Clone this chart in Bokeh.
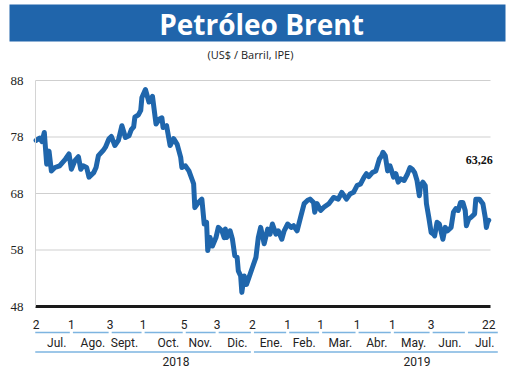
from datetime import datetime, timedelta
from bokeh.plotting import figure
from bokeh.models import FixedTicker, CustomJSTickFormatter, ColumnDataSource
from bokeh.core.properties import value
from bokeh.embed import file_html
from bokeh.resources import INLINE

# ---------------- data ----------------
dates = [
    "2018-07-02", "2018-07-05", "2018-07-07", "2018-07-09", "2018-07-11", "2018-07-13",
    "2018-07-15", "2018-07-18", "2018-07-22", "2018-07-27", "2018-07-30", "2018-08-01",
    "2018-08-04", "2018-08-07", "2018-08-09", "2018-08-11", "2018-08-14", "2018-08-16",
    "2018-08-20", "2018-08-22", "2018-08-24", "2018-08-28", "2018-08-30", "2018-09-02",
    "2018-09-04", "2018-09-07", "2018-09-10", "2018-09-13", "2018-09-16", "2018-09-19",
    "2018-09-21", "2018-09-23", "2018-09-24", "2018-09-27", "2018-09-29", "2018-09-30",
    "2018-10-03", "2018-10-06", "2018-10-09", "2018-10-12", "2018-10-15", "2018-10-17",
    "2018-10-18", "2018-10-21", "2018-10-24", "2018-10-27", "2018-10-30", "2018-11-02",
    "2018-11-03", "2018-11-06", "2018-11-09", "2018-11-12", "2018-11-13", "2018-11-14",
    "2018-11-17", "2018-11-20", "2018-11-22", "2018-11-24", "2018-11-25", "2018-11-27",
    "2018-11-29", "2018-12-02", "2018-12-04", "2018-12-07", "2018-12-09", "2018-12-10",
    "2018-12-11", "2018-12-14", "2018-12-16", "2018-12-18", "2018-12-20", "2018-12-21",
    "2018-12-23", "2018-12-24", "2018-12-26", "2018-12-28", "2018-12-30", "2019-01-02",
    "2019-01-05", "2019-01-07", "2019-01-09", "2019-01-12", "2019-01-15", "2019-01-17",
    "2019-01-19", "2019-01-22", "2019-01-24", "2019-01-27", "2019-01-29", "2019-02-01",
    "2019-02-04", "2019-02-06", "2019-02-09", "2019-02-12", "2019-02-15", "2019-02-18",
    "2019-02-20", "2019-02-23", "2019-02-24", "2019-02-26", "2019-03-01", "2019-03-04",
    "2019-03-08", "2019-03-12", "2019-03-16", "2019-03-19", "2019-03-23", "2019-03-26",
    "2019-03-29", "2019-04-01", "2019-04-04", "2019-04-07", "2019-04-09", "2019-04-11",
    "2019-04-14", "2019-04-17", "2019-04-20", "2019-04-22", "2019-04-23", "2019-04-25",
    "2019-04-27", "2019-04-29", "2019-04-30", "2019-05-02", "2019-05-04", "2019-05-06",
    "2019-05-08", "2019-05-11", "2019-05-14", "2019-05-16", "2019-05-18", "2019-05-20",
    "2019-05-22", "2019-05-24", "2019-05-25", "2019-05-27", "2019-05-29", "2019-05-30",
    "2019-06-01", "2019-06-03", "2019-06-05", "2019-06-06", "2019-06-08", "2019-06-10",
    "2019-06-13", "2019-06-15", "2019-06-17", "2019-06-20", "2019-06-22", "2019-06-24",
    "2019-06-26", "2019-06-28", "2019-06-30", "2019-07-02", "2019-07-03", "2019-07-05",
    "2019-07-07", "2019-07-10", "2019-07-11", "2019-07-14", "2019-07-17", "2019-07-19",
    "2019-07-20", "2019-07-21", "2019-07-22",
]
prices = [
    77.4, 77.8, 77.2, 78.8, 73.2, 75.5,
    72.0, 72.6, 72.9, 74.1, 75.0, 72.3,
    73.8, 74.5, 72.3, 72.9, 72.6, 70.9,
    71.7, 72.6, 74.7, 75.6, 76.2, 77.7,
    78.1, 76.5, 77.4, 80.0, 77.9, 78.2,
    79.3, 79.8, 81.5, 81.9, 82.7, 85.0,
    86.4, 84.2, 85.2, 80.3, 81.2, 81.4,
    79.7, 80.0, 76.5, 77.7, 76.7, 74.4,
    72.6, 72.9, 72.0, 70.3, 69.7, 65.5,
    66.4, 67.0, 62.6, 62.9, 57.9, 60.2,
    58.7, 60.2, 62.0, 61.4, 60.2, 61.7,
    60.2, 61.4, 59.9, 57.0, 56.7, 54.3,
    53.4, 50.5, 53.4, 51.9, 53.1, 54.9,
    56.7, 60.2, 62.0, 59.1, 61.7, 60.8,
    62.6, 60.8, 61.4, 59.9, 61.4, 62.6,
    62.0, 62.3, 61.4, 63.8, 66.2, 66.8,
    67.0, 66.4, 64.7, 66.2, 65.0, 65.6,
    66.2, 67.3, 67.0, 68.2, 67.0, 67.9,
    68.2, 69.4, 69.7, 70.9, 71.5, 71.0,
    71.7, 72.0, 74.1, 74.7, 75.3, 74.7,
    72.0, 72.9, 72.3, 70.9, 71.5, 70.0,
    70.6, 70.3, 71.5, 72.6, 72.3, 71.7,
    70.3, 67.6, 69.4, 70.0, 69.4, 66.2,
    63.8, 61.1, 60.8, 60.5, 62.9, 62.6,
    59.9, 62.0, 61.4, 62.0, 64.7, 65.3,
    65.0, 66.4, 66.4, 65.0, 62.3, 63.5,
    63.8, 64.4, 67.0, 67.0, 66.2, 63.8,
    62.0, 62.9, 63.26,
]

tick_dates = ["2018-07-02", "2018-08-01", "2018-09-03", "2018-10-01", "2018-11-05",
              "2018-12-03", "2019-01-02", "2019-02-01", "2019-03-01", "2019-04-01",
              "2019-05-01", "2019-06-03", "2019-07-22"]
month_names = ["Jul.", "Ago.", "Sept.", "Oct.", "Nov.", "Dic.", "Ene.", "Feb.",
               "Mar.", "Abr.", "May.", "Jun.", "Jul."]
month_bounds = ["2018-06-30", "2018-08-01", "2018-09-03", "2018-10-01", "2018-11-05",
                "2018-12-03", "2019-01-02", "2019-02-01", "2019-03-01", "2019-04-01",
                "2019-05-01", "2019-06-03", "2019-07-03", "2019-07-31"]
year_names = ["2018", "2019"]
year_bounds = ["2018-06-30", "2019-01-02", "2019-07-31"]
year_label_dates = ["2018-10-29", "2019-05-22"]
y_ticks = [48, 58, 68, 78, 88]

title_text = "Petróleo Brent"
subtitle_text = "(US$ / Barril, IPE)"
last_label = f"{prices[-1]:.2f}".replace(".", ",")

# ---------------- layout (pixels of the 520x390 canvas) ----------------
W, H = 520, 390
PL, PR, PT, PB = 35, 490, 80, 306          # plot area
EPOCH = datetime(1970, 1, 1)


def ms(s, shift_days=0.0):
    d = datetime.strptime(s, "%Y-%m-%d") + timedelta(days=shift_days)
    return (d - EPOCH).total_seconds() * 1000.0


T0 = ms("2018-07-01", 0.5)
T1 = ms("2019-07-23", 0.5)
YMIN, YMAX = y_ticks[0], y_ticks[-1]
mpp = (T1 - T0) / (PR - PL)                 # ms per pixel
upp = (YMAX - YMIN) / (PB - PT)             # value per pixel


def X(px):   # canvas px -> data x
    return T0 + (px - PL) * mpp


def Y(py):   # canvas py (from top) -> data y
    return YMAX - (py - PT) * upp


DAY = 86400000.0
BLUE = "#1f66ac"
BANNER = "#2065ab"
LIGHT_BLUE = "#7db4e0"
SANS = "Roboto"

x = [datetime.strptime(d, "%Y-%m-%d") for d in dates]
src = ColumnDataSource(dict(x=x, y=prices))

# ---------------- figure ----------------
p = figure(width=W, height=H, x_axis_type="datetime",
           x_range=(X(0), X(W)), y_range=(Y(H), Y(0)),
           output_backend="svg", toolbar_location=None,
           min_border=0)
p.title.visible = False
p.outline_line_color = None
p.background_fill_color = "white"
p.border_fill_color = "white"
p.xgrid.visible = False
p.ygrid.visible = False

# horizontal grid lines, limited to the plot area
p.segment(x0=T0, x1=T1, y0=y_ticks[1:], y1=y_ticks[1:],
          line_color="#cfcfcf", line_width=1.2)

# y axis
p.yaxis.fixed_location = T0
p.yaxis.bounds = (YMIN, YMAX)
p.yaxis.ticker = FixedTicker(ticks=y_ticks)
p.yaxis.axis_line_color = "#d4d4d4"
p.yaxis.axis_line_width = 1
p.yaxis.major_tick_line_color = None
p.yaxis.minor_tick_line_color = None
p.yaxis.major_label_standoff = 6
p.yaxis.major_label_text_font = "Liberation Serif"
p.yaxis.major_label_text_font_size = "13px"
p.yaxis.major_label_text_color = "#222222"

# x axis (day numbers)
p.xaxis.fixed_location = YMIN
p.xaxis.bounds = (T0, T1)
p.xaxis.ticker = FixedTicker(ticks=[ms(d) for d in tick_dates])
p.xaxis.formatter = CustomJSTickFormatter(code="return String(new Date(tick).getUTCDate());")
p.xaxis.axis_line_color = "#1a1a1a"
p.xaxis.axis_line_width = 3
p.xaxis.major_tick_line_color = None
p.xaxis.minor_tick_line_color = None
p.xaxis.major_label_standoff = 7
p.xaxis.major_label_text_font = SANS
p.xaxis.major_label_text_font_size = "12px"
p.xaxis.major_label_text_color = "#222222"

# price line
p.line("x", "y", source=src, line_color=BLUE, line_width=5,
       line_join="round", line_cap="round")

# last value label
p.text(x=[ms(dates[-1]) + 4 * mpp], y=[Y(159)], text=[last_label],
       text_align="right", text_baseline="middle",
       text_font=value("Liberation Serif"), text_font_style="bold",
       text_font_size="12px", text_color="#111111")

# banner, title, subtitle
p.quad(left=X(9), right=X(505), top=Y(4), bottom=Y(41),
       fill_color=BANNER, line_color=None)
p.text(x=[X(261)], y=[Y(23.5)], text=[title_text], text_align="center",
       text_baseline="middle", text_font=value("Open Sans"), text_font_style="bold",
       text_font_size="28px", text_color="white")
p.text(x=[X(250)], y=[Y(53.5)], text=[subtitle_text], text_align="center",
       text_baseline="middle", text_font=value("Open Sans"),
       text_font_size="11px", text_color="#222222")

# month separators and labels
gap = 1.3 * DAY
m0 = [ms(d) + gap for d in month_bounds[:-1]]
m1 = [ms(d) - gap for d in month_bounds[1:]]
p.segment(x0=m0, x1=m1, y0=Y(332), y1=Y(332), line_color=LIGHT_BLUE, line_width=1.6)
p.text(x=[ms(d) - 5 * mpp for d in month_bounds[1:]], y=Y(342.5), text=month_names,
       text_align="right", text_baseline="middle", text_font=value(SANS),
       text_font_size="12px", text_color="#222222")

# year separators and labels
y0s = [ms(d) + gap for d in year_bounds[:-1]]
y1s = [ms(d) - gap for d in year_bounds[1:]]
p.segment(x0=y0s, x1=y1s, y0=Y(351.5), y1=Y(351.5), line_color=LIGHT_BLUE, line_width=1.6)
p.text(x=[ms(d) for d in year_label_dates], y=Y(361), text=year_names,
       text_align="center", text_baseline="middle", text_font=value(SANS),
       text_font_size="12px", text_color="#222222")

open("out.html", "w").write(file_html(p, INLINE))
